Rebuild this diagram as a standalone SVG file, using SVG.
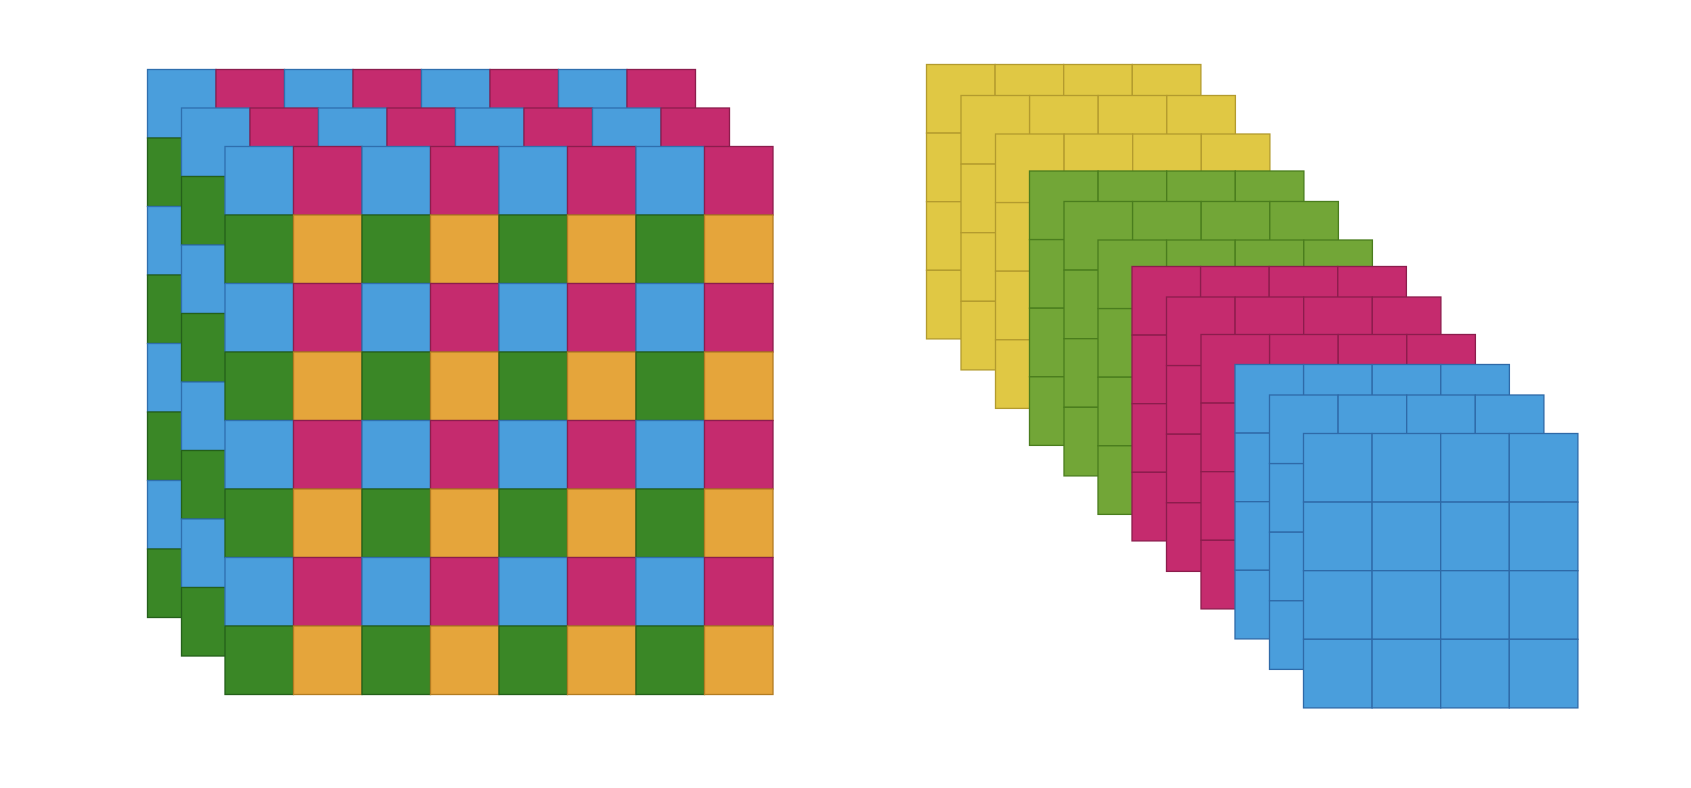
<svg xmlns="http://www.w3.org/2000/svg" xmlns:xlink="http://www.w3.org/1999/xlink" width="1691" height="788" viewBox="0 0 1691 788">
<style>
.b{fill:#4A9EDC;stroke:#2F6FAE}
.m{fill:#C52B6E;stroke:#8C1D4D}
.g{fill:#3A8726;stroke:#24601A}
.o{fill:#E5A53B;stroke:#B27C22}
rect{stroke-width:1.3}
.y{fill:#E0C844;stroke:#B39B2E}
.lg{fill:#72A637;stroke:#4A7D1E}
.mg{fill:#C52B6E;stroke:#8C1D4D}
.bl{fill:#4A9EDC;stroke:#2F6AA8}
</style>
<defs>
<g id="checker">
<rect class="b" x="0" y="0" width="68.5" height="68.5"/><rect class="m" x="68.5" y="0" width="68.5" height="68.5"/><rect class="b" x="137" y="0" width="68.5" height="68.5"/><rect class="m" x="205.5" y="0" width="68.5" height="68.5"/><rect class="b" x="274" y="0" width="68.5" height="68.5"/><rect class="m" x="342.5" y="0" width="68.5" height="68.5"/><rect class="b" x="411" y="0" width="68.5" height="68.5"/><rect class="m" x="479.5" y="0" width="68.5" height="68.5"/>
<rect class="g" x="0" y="68.5" width="68.5" height="68.5"/><rect class="o" x="68.5" y="68.5" width="68.5" height="68.5"/><rect class="g" x="137" y="68.5" width="68.5" height="68.5"/><rect class="o" x="205.5" y="68.5" width="68.5" height="68.5"/><rect class="g" x="274" y="68.5" width="68.5" height="68.5"/><rect class="o" x="342.5" y="68.5" width="68.5" height="68.5"/><rect class="g" x="411" y="68.5" width="68.5" height="68.5"/><rect class="o" x="479.5" y="68.5" width="68.5" height="68.5"/>
<rect class="b" x="0" y="137" width="68.5" height="68.5"/><rect class="m" x="68.5" y="137" width="68.5" height="68.5"/><rect class="b" x="137" y="137" width="68.5" height="68.5"/><rect class="m" x="205.5" y="137" width="68.5" height="68.5"/><rect class="b" x="274" y="137" width="68.5" height="68.5"/><rect class="m" x="342.5" y="137" width="68.5" height="68.5"/><rect class="b" x="411" y="137" width="68.5" height="68.5"/><rect class="m" x="479.5" y="137" width="68.5" height="68.5"/>
<rect class="g" x="0" y="205.5" width="68.5" height="68.5"/><rect class="o" x="68.5" y="205.5" width="68.5" height="68.5"/><rect class="g" x="137" y="205.5" width="68.5" height="68.5"/><rect class="o" x="205.5" y="205.5" width="68.5" height="68.5"/><rect class="g" x="274" y="205.5" width="68.5" height="68.5"/><rect class="o" x="342.5" y="205.5" width="68.5" height="68.5"/><rect class="g" x="411" y="205.5" width="68.5" height="68.5"/><rect class="o" x="479.5" y="205.5" width="68.5" height="68.5"/>
<rect class="b" x="0" y="274" width="68.5" height="68.5"/><rect class="m" x="68.5" y="274" width="68.5" height="68.5"/><rect class="b" x="137" y="274" width="68.5" height="68.5"/><rect class="m" x="205.5" y="274" width="68.5" height="68.5"/><rect class="b" x="274" y="274" width="68.5" height="68.5"/><rect class="m" x="342.5" y="274" width="68.5" height="68.5"/><rect class="b" x="411" y="274" width="68.5" height="68.5"/><rect class="m" x="479.5" y="274" width="68.5" height="68.5"/>
<rect class="g" x="0" y="342.5" width="68.5" height="68.5"/><rect class="o" x="68.5" y="342.5" width="68.5" height="68.5"/><rect class="g" x="137" y="342.5" width="68.5" height="68.5"/><rect class="o" x="205.5" y="342.5" width="68.5" height="68.5"/><rect class="g" x="274" y="342.5" width="68.5" height="68.5"/><rect class="o" x="342.5" y="342.5" width="68.5" height="68.5"/><rect class="g" x="411" y="342.5" width="68.5" height="68.5"/><rect class="o" x="479.5" y="342.5" width="68.5" height="68.5"/>
<rect class="b" x="0" y="411" width="68.5" height="68.5"/><rect class="m" x="68.5" y="411" width="68.5" height="68.5"/><rect class="b" x="137" y="411" width="68.5" height="68.5"/><rect class="m" x="205.5" y="411" width="68.5" height="68.5"/><rect class="b" x="274" y="411" width="68.5" height="68.5"/><rect class="m" x="342.5" y="411" width="68.5" height="68.5"/><rect class="b" x="411" y="411" width="68.5" height="68.5"/><rect class="m" x="479.5" y="411" width="68.5" height="68.5"/>
<rect class="g" x="0" y="479.5" width="68.5" height="68.5"/><rect class="o" x="68.5" y="479.5" width="68.5" height="68.5"/><rect class="g" x="137" y="479.5" width="68.5" height="68.5"/><rect class="o" x="205.5" y="479.5" width="68.5" height="68.5"/><rect class="g" x="274" y="479.5" width="68.5" height="68.5"/><rect class="o" x="342.5" y="479.5" width="68.5" height="68.5"/><rect class="g" x="411" y="479.5" width="68.5" height="68.5"/><rect class="o" x="479.5" y="479.5" width="68.5" height="68.5"/>
</g>
<g id="grid">
<rect x="0" y="0" width="68.6" height="68.6"/><rect x="68.6" y="0" width="68.6" height="68.6"/><rect x="137.2" y="0" width="68.6" height="68.6"/><rect x="205.8" y="0" width="68.6" height="68.6"/>
<rect x="0" y="68.6" width="68.6" height="68.6"/><rect x="68.6" y="68.6" width="68.6" height="68.6"/><rect x="137.2" y="68.6" width="68.6" height="68.6"/><rect x="205.8" y="68.6" width="68.6" height="68.6"/>
<rect x="0" y="137.2" width="68.6" height="68.6"/><rect x="68.6" y="137.2" width="68.6" height="68.6"/><rect x="137.2" y="137.2" width="68.6" height="68.6"/><rect x="205.8" y="137.2" width="68.6" height="68.6"/>
<rect x="0" y="205.8" width="68.6" height="68.6"/><rect x="68.6" y="205.8" width="68.6" height="68.6"/><rect x="137.2" y="205.8" width="68.6" height="68.6"/><rect x="205.8" y="205.8" width="68.6" height="68.6"/>
</g>
</defs>
<rect x="0" y="0" width="1691" height="788" fill="#ffffff" stroke="none"/>
<g id="left-stack">
<g id="left-layer-1"><use xlink:href="#checker" x="147.5" y="69.5"/></g>
<g id="left-layer-2"><use xlink:href="#checker" x="181.5" y="108"/></g>
<g id="left-layer-3"><use xlink:href="#checker" x="225" y="146.5"/></g>
</g>
<g id="right-stack">
<g id="yellow-1" class="y"><use xlink:href="#grid" x="926.5" y="64.5"/></g>
<g id="yellow-2" class="y"><use xlink:href="#grid" x="961" y="95.5"/></g>
<g id="yellow-3" class="y"><use xlink:href="#grid" x="995.5" y="134"/></g>
<g id="green-1" class="lg"><use xlink:href="#grid" x="1029.5" y="171"/></g>
<g id="green-2" class="lg"><use xlink:href="#grid" x="1064" y="201.5"/></g>
<g id="green-3" class="lg"><use xlink:href="#grid" x="1098" y="240"/></g>
<g id="magenta-1" class="mg"><use xlink:href="#grid" x="1132" y="266.5"/></g>
<g id="magenta-2" class="mg"><use xlink:href="#grid" x="1166.5" y="297"/></g>
<g id="magenta-3" class="mg"><use xlink:href="#grid" x="1201" y="334.5"/></g>
<g id="blue-1" class="bl"><use xlink:href="#grid" x="1235" y="364.5"/></g>
<g id="blue-2" class="bl"><use xlink:href="#grid" x="1269.5" y="395"/></g>
<g id="blue-3" class="bl"><use xlink:href="#grid" x="1303.5" y="433.5"/></g>
</g>
</svg>
